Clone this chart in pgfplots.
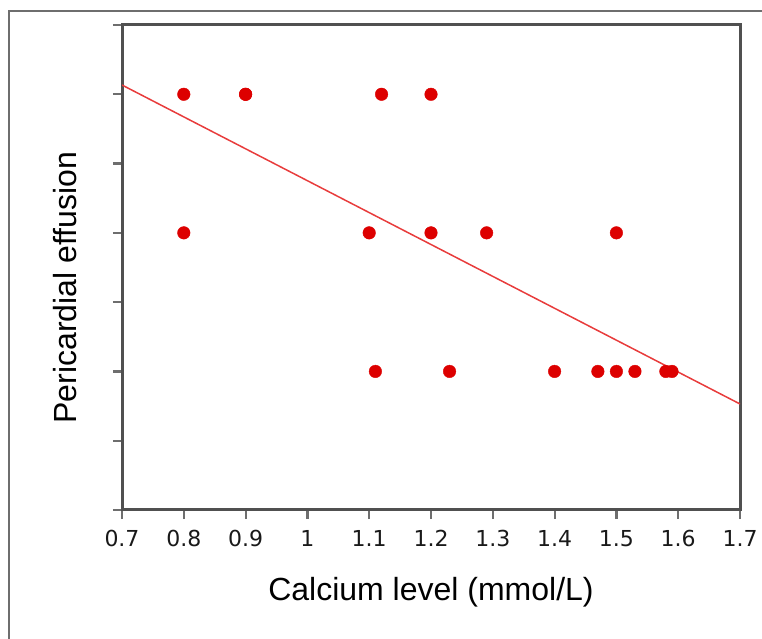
\documentclass[border=0pt]{standalone}
\usepackage{fontspec}
\setmainfont{Liberation Sans}
\newfontfamily\dejavu{DejaVu Sans}
\usepackage{pgfplots}
\pgfplotsset{compat=1.18}
\definecolor{dotred}{RGB}{221,0,0}
\definecolor{fitred}{RGB}{232,60,60}
\definecolor{axgray}{RGB}{80,80,80}
\definecolor{tickgray}{RGB}{110,110,110}

\begin{document}
\begin{tikzpicture}
\useasboundingbox (0,0) rectangle (762pt,639pt);
% outer frame (top and left only visible)
\draw[tickgray, line width=1.5pt] (9pt,0) -- (9pt,628pt) -- (762pt,628pt);
\begin{axis}[
  at={(122pt,129pt)}, anchor=south west,
  scale only axis,
  width=618pt, height=485pt,
  xmin=0.7, xmax=1.7,
  ymin=0, ymax=3.5,
  xtick={0.7,0.8,0.9,1,1.1,1.2,1.3,1.4,1.5,1.6,1.7},
  ytick={0,0.5,1,1.5,2,2.5,3,3.5},
  yticklabels={},
  tick align=outside,
  major tick length=9pt,
  every major tick/.append style={draw=tickgray, line width=2.2pt},
  xtick style={draw=tickgray, line width=2.2pt},
  ytick style={draw=tickgray, line width=2.2pt},
  axis line style={draw=axgray, line width=3pt},
  xtick pos=bottom, ytick pos=left,
  /pgf/number format/assume math mode=true,
  ticklabel style={font=\dejavu\fontsize{22}{22}\selectfont, text=black!90},
  xticklabel style={yshift=-8pt},
  label style={font=\fontsize{32}{32}\selectfont, text=black},
  xlabel={Calcium level (mmol/L)},
  ylabel={Pericardial effusion},
  xlabel style={at={(axis description cs:0.5,-0.17)}, anchor=center},
  ylabel style={at={(axis description cs:-0.092,0.458)}, anchor=center, rotate=0},
]
% fitted line
\addplot[fitred, line width=1.5pt] coordinates {(0.7,3.067) (1.7,0.765)};
% observations
\addplot[only marks, mark=*, mark size=6.3pt, color=dotred] coordinates {
  (0.8,3) (0.9,3) (0.9,3) (1.12,3) (1.2,3)
  (0.8,2) (1.1,2) (1.2,2) (1.29,2) (1.5,2)
  (1.11,1) (1.23,1) (1.4,1) (1.47,1) (1.5,1) (1.53,1) (1.58,1) (1.59,1)
};
\end{axis}
\end{tikzpicture}
\end{document}
